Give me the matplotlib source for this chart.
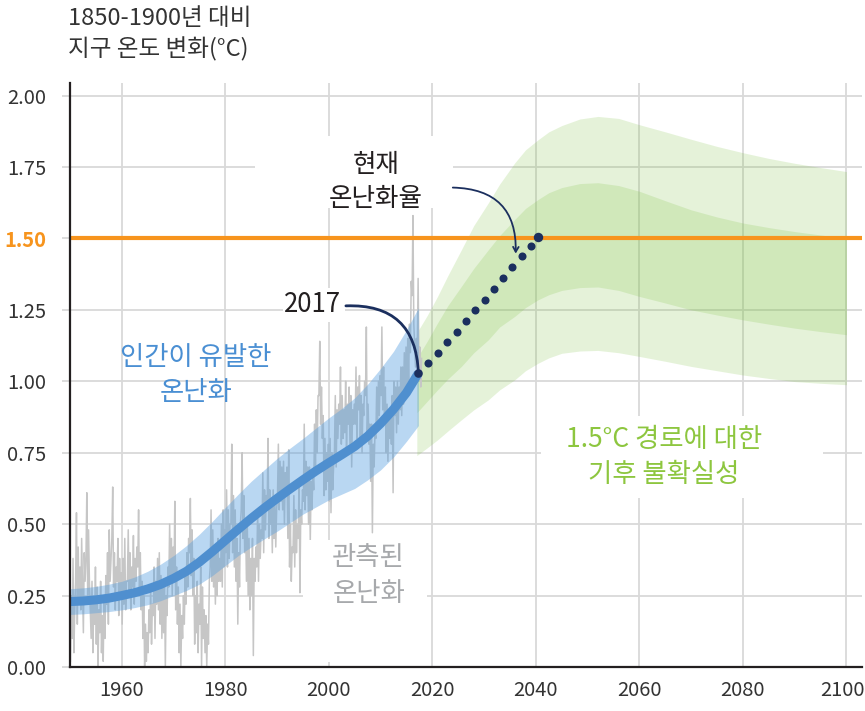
import matplotlib
matplotlib.use("Agg")
import matplotlib.pyplot as plt
from matplotlib.patches import Rectangle

plt.rcParams['font.family'] = ['Noto Sans CJK KR', 'DejaVu Sans']

# -----------------------------
# Data
# -----------------------------
# observed warming, six readings per year, 1950-2017
obs_years = list(range(1950, 2018))
obs_vals = [
    [0.02, 0.25, 0.10, 0.38, 0.05, 0.20],  # 1950
    [0.30, 0.54, 0.15, 0.42, 0.22, 0.35],
    [0.20, 0.45, 0.28, 0.12, 0.40, 0.30],
    [0.38, 0.61, 0.25, 0.48, 0.30, 0.20],
    [0.10, 0.30, 0.05, 0.22, 0.15, 0.35],
    [0.08, 0.28, 0.00, 0.20, 0.12, 0.30],
    [0.05, 0.18, 0.02, 0.25, 0.10, 0.32],
    [0.22, 0.40, 0.15, 0.48, 0.30, 0.38],
    [0.45, 0.63, 0.28, 0.40, 0.20, 0.35],
    [0.30, 0.45, 0.18, 0.38, 0.25, 0.33],
    [0.15, 0.38, 0.22, 0.45, 0.20, 0.30],  # 1960
    [0.30, 0.48, 0.25, 0.40, 0.20, 0.35],
    [0.28, 0.46, 0.22, 0.38, 0.30, 0.42],
    [0.35, 0.55, 0.25, 0.40, 0.20, 0.30],
    [0.10, 0.25, 0.00, 0.15, 0.02, 0.12],
    [0.05, 0.20, 0.12, 0.28, 0.08, 0.22],
    [0.18, 0.35, 0.10, 0.30, 0.22, 0.38],
    [0.20, 0.40, 0.15, 0.32, 0.10, 0.28],
    [0.12, 0.30, 0.00, 0.25, 0.18, 0.35],
    [0.28, 0.50, 0.30, 0.45, 0.25, 0.42],
    [0.30, 0.58, 0.20, 0.35, 0.15, 0.28],  # 1970
    [0.05, 0.22, 0.00, 0.18, 0.10, 0.25],
    [0.15, 0.32, 0.22, 0.40, 0.28, 0.45],
    [0.40, 0.59, 0.32, 0.48, 0.25, 0.38],
    [0.08, 0.25, 0.12, 0.30, 0.05, 0.22],
    [0.15, 0.35, 0.00, 0.28, 0.10, 0.20],
    [0.05, 0.18, 0.00, 0.15, 0.08, 0.30],
    [0.35, 0.55, 0.30, 0.48, 0.28, 0.42],
    [0.22, 0.40, 0.25, 0.45, 0.30, 0.38],
    [0.30, 0.50, 0.28, 0.55, 0.35, 0.48],
    [0.40, 0.62, 0.35, 0.55, 0.38, 0.50],  # 1980
    [0.50, 0.78, 0.40, 0.60, 0.35, 0.55],
    [0.30, 0.45, 0.15, 0.40, 0.28, 0.50],
    [0.55, 0.75, 0.45, 0.60, 0.40, 0.52],
    [0.30, 0.50, 0.25, 0.45, 0.20, 0.38],
    [0.25, 0.45, 0.04, 0.38, 0.30, 0.42],
    [0.35, 0.55, 0.30, 0.50, 0.38, 0.48],
    [0.45, 0.68, 0.40, 0.62, 0.48, 0.60],
    [0.55, 0.80, 0.45, 0.62, 0.50, 0.58],
    [0.40, 0.62, 0.45, 0.58, 0.42, 0.55],
    [0.60, 0.78, 0.55, 0.72, 0.58, 0.70],  # 1990
    [0.55, 0.72, 0.50, 0.68, 0.60, 0.70],
    [0.45, 0.76, 0.35, 0.50, 0.30, 0.42],
    [0.40, 0.60, 0.35, 0.55, 0.40, 0.50],
    [0.45, 0.65, 0.26, 0.55, 0.50, 0.62],
    [0.58, 0.85, 0.55, 0.72, 0.60, 0.70],
    [0.50, 0.70, 0.44, 0.65, 0.55, 0.68],
    [0.62, 0.85, 0.70, 0.90, 0.75, 0.95],
    [0.95, 1.14, 0.85, 0.98, 0.80, 0.88],
    [0.60, 0.80, 0.62, 0.75, 0.65, 0.78],
    [0.58, 0.80, 0.54, 0.75, 0.62, 0.70],  # 2000
    [0.75, 0.95, 0.70, 0.90, 0.80, 0.92],
    [0.85, 1.05, 0.78, 0.95, 0.80, 0.90],
    [0.82, 1.00, 0.75, 0.92, 0.85, 0.98],
    [0.78, 0.95, 0.70, 0.90, 0.85, 0.92],
    [0.85, 1.05, 0.80, 0.98, 0.90, 1.02],
    [0.80, 0.95, 0.75, 0.92, 0.88, 1.00],
    [0.95, 1.19, 0.80, 0.92, 0.78, 0.85],
    [0.65, 0.85, 0.47, 0.78, 0.70, 0.82],
    [0.80, 0.98, 0.85, 1.00, 0.88, 1.02],
    [0.95, 1.19, 0.90, 1.05, 0.85, 0.98],  # 2010
    [0.75, 0.92, 0.72, 0.88, 0.80, 0.90],
    [0.78, 0.95, 0.61, 1.00, 0.88, 0.98],
    [0.82, 1.00, 0.85, 0.98, 0.90, 1.05],
    [0.88, 1.05, 0.92, 1.10, 0.95, 1.12],
    [0.95, 1.15, 1.00, 1.20, 1.10, 1.35],
    [1.30, 1.58, 1.20, 1.12, 1.05, 1.15],
    [1.10, 1.36, 1.05, 1.12, 0.98, 1.08],  # 2017
]

# human-induced warming (best estimate and likely range)
human_years = [1950, 1952.5, 1955, 1957.5, 1960, 1962.5, 1965, 1967.5, 1970,
               1972.5, 1975, 1977.5, 1980, 1982.5, 1985, 1987.5, 1990, 1992.5,
               1995, 1997.5, 2000, 2002.5, 2005, 2007.5, 2010, 2012.5, 2015,
               2017.3]
human_mid = [0.229, 0.231, 0.235, 0.241, 0.25, 0.26, 0.273, 0.289, 0.31,
             0.335, 0.367, 0.404, 0.443, 0.482, 0.52, 0.556, 0.59, 0.623,
             0.655, 0.686, 0.715, 0.743, 0.772, 0.808, 0.852, 0.902, 0.96,
             1.028]
human_hi = [0.274, 0.277, 0.282, 0.29, 0.30, 0.315, 0.335, 0.36, 0.39,
            0.425, 0.465, 0.51, 0.558, 0.605, 0.65, 0.69, 0.73, 0.766,
            0.80, 0.836, 0.872, 0.905, 0.942, 0.99, 1.045, 1.105, 1.18,
            1.257]
human_lo = [0.184, 0.186, 0.19, 0.194, 0.20, 0.208, 0.218, 0.232, 0.25,
            0.268, 0.29, 0.32, 0.355, 0.39, 0.42, 0.448, 0.475, 0.505,
            0.535, 0.56, 0.585, 0.605, 0.625, 0.655, 0.69, 0.735, 0.79,
            0.845]

# 1.5C pathway uncertainty ranges
path_years = [2017, 2019, 2021, 2023, 2025.6, 2028, 2030.8, 2033, 2035.9,
              2038, 2040.4, 2042.5, 2045, 2048.5, 2052, 2056, 2060, 2065,
              2070, 2075, 2080, 2085, 2090, 2095, 2100]
outer_hi = [1.17, 1.23, 1.297, 1.37, 1.46, 1.545, 1.624, 1.69, 1.764, 1.81,
            1.845, 1.873, 1.895, 1.918, 1.927, 1.92, 1.898, 1.873, 1.847,
            1.822, 1.80, 1.78, 1.763, 1.748, 1.734]
inner_hi = [1.08, 1.14, 1.204, 1.265, 1.332, 1.395, 1.46, 1.51, 1.566, 1.605,
            1.636, 1.66, 1.678, 1.692, 1.695, 1.685, 1.665, 1.632, 1.60,
            1.575, 1.554, 1.538, 1.524, 1.512, 1.501]
inner_lo = [0.89, 0.93, 0.97, 1.008, 1.052, 1.10, 1.145, 1.19, 1.227, 1.258,
            1.285, 1.303, 1.318, 1.328, 1.33, 1.318, 1.297, 1.274, 1.25,
            1.232, 1.215, 1.2, 1.186, 1.174, 1.163]
outer_lo = [0.74, 0.767, 0.795, 0.826, 0.865, 0.90, 0.935, 0.97, 1.005, 1.037,
            1.063, 1.082, 1.098, 1.106, 1.108, 1.1, 1.087, 1.07, 1.052,
            1.037, 1.022, 1.01, 0.999, 0.993, 0.988]

# current warming rate (dotted)
rate_years = [2017.3, 2019.2, 2021.0, 2022.9, 2024.7, 2026.5, 2028.3, 2030.1,
              2031.9, 2033.7, 2035.4, 2037.3, 2039.0, 2040.5]
rate_vals = [1.028, 1.063, 1.098, 1.137, 1.174, 1.212, 1.249, 1.285,
             1.323, 1.361, 1.399, 1.437, 1.475, 1.504]

yticks = [0.0, 0.25, 0.5, 0.75, 1.0, 1.25, 1.5, 1.75, 2.0]
xticks = [1960, 1980, 2000, 2020, 2040, 2060, 2080, 2100]

# -----------------------------
# Colours
# -----------------------------
GRID = "#d9d9d9"
BLUE = "#4f8fcf"
GREEN = "#7dc242"
ORANGE = "#f7941d"
NAVY = "#1b2f5e"
GRAY_OBS = "#c6c6c6"
TICK_COL = "#333333"

# -----------------------------
# Plot
# -----------------------------
fig = plt.figure(figsize=(8.65, 7.11), dpi=100)
ax = fig.add_axes([70 / 865, 44 / 711, 792 / 865, 584 / 711])

ax.set_xlim(1950, 2103)
ax.set_ylim(0, 2.044)

for y in yticks:
    ax.axhline(y, color=GRID, lw=1.3, zorder=0.5)
for x in xticks:
    ax.axvline(x, color=GRID, lw=1.3, zorder=0.5)

# green pathway ranges
ax.fill_between(path_years, outer_lo, outer_hi, color=GREEN, alpha=0.2, lw=0, zorder=1)
ax.fill_between(path_years, inner_lo, inner_hi, color=GREEN, alpha=0.2, lw=0, zorder=1)

# observed
obs_x = [yr + (k + 0.5) / 6 for yr in obs_years for k in range(6)]
obs_y = [v for row in obs_vals for v in row]
ax.plot(obs_x, obs_y, color=GRAY_OBS, lw=1.1, zorder=1.5)

# human-induced
ax.fill_between(human_years, human_lo, human_hi, color="#5aa0e0", alpha=0.42, lw=0, zorder=2)
ax.plot(human_years, human_mid, color=BLUE, lw=6.5, solid_capstyle="butt", zorder=3)

# 1.5 line
ax.axhline(1.5, color=ORANGE, lw=3, zorder=4)

# current rate dots
ax.plot(rate_years[1:-1], rate_vals[1:-1], "o", color=NAVY, ms=5.8, mec="none", zorder=6)
ax.plot(rate_years[0], rate_vals[0], "o", color=NAVY, ms=6.2, mec="none", zorder=6)
ax.plot(rate_years[-1], rate_vals[-1], "o", color=NAVY, ms=6.8, mec="none", zorder=6)

# white masks behind labels (cut the grid like the original)
for (x0, x1, y0, y1) in [(1985.7, 2023.9, 1.608, 1.86),
                         (1991.1, 2003.1, 1.208, 1.327),
                         (1995.0, 2018.9, 0.018, 0.445),
                         (2040.9, 2095.4, 0.591, 0.877)]:
    ax.add_patch(Rectangle((x0, y0), x1 - x0, y1 - y0, facecolor="white",
                           edgecolor="none", zorder=5))

# annotations
ax.text(1996.9, 1.27, "2017", ha="center", va="center", fontsize=18.6,
        fontweight="medium", color="#231f20", zorder=7)
ax.annotate("", xy=(2017.3, 1.028), xytext=(2003.3, 1.264),
            arrowprops=dict(arrowstyle="-", color=NAVY, lw=2,
                            connectionstyle="arc3,rad=-0.5",
                            shrinkA=0, shrinkB=0), zorder=7)

ax.text(2009.1, 1.698, "현재\n온난화율", ha="center", va="center", fontsize=18.4,
        color="#231f20", linespacing=1.4, zorder=7)
ax.annotate("", xy=(2036.1, 1.447), xytext=(2023.95, 1.678),
            arrowprops=dict(arrowstyle="->,head_length=0.35,head_width=0.2",
                            color=NAVY, lw=1.3,
                            connectionstyle="arc3,rad=-0.5",
                            shrinkA=0, shrinkB=0), zorder=7)

ax.text(1974.3, 1.021, "인간이 유발한\n온난화", ha="center", va="center",
        fontsize=19, color="#4a8fd3", linespacing=1.4, zorder=7)
ax.text(2007.7, 0.32, "관측된\n온난화", ha="center", va="center",
        fontsize=19, color="#a7a9ac", linespacing=1.4, zorder=7)
ax.text(2064.7, 0.734, "1.5°C 경로에 대한\n기후 불확실성", ha="center", va="center",
        fontsize=19, color="#8dc63f", linespacing=1.4, zorder=7)

# axes styling
for side in ["top", "right"]:
    ax.spines[side].set_visible(False)
for side in ["left", "bottom"]:
    ax.spines[side].set_color("#231f20")
    ax.spines[side].set_linewidth(1.6)
    ax.spines[side].set_zorder(8)

ax.set_yticks(yticks)
ax.set_yticklabels([f"{v:.2f}" for v in yticks])
ax.tick_params(axis="y", length=6, width=1.3, color=GRID, pad=11,
               labelsize=14.5, labelcolor=TICK_COL)
for lbl in ax.get_yticklabels():
    if lbl.get_text() == "1.50":
        lbl.set_color(ORANGE)
        lbl.set_fontweight("bold")

# x tick labels drawn as text so the last one stays inside the figure
ax.set_xticks(xticks)
ax.set_xticklabels([])
ax.tick_params(axis="x", length=0)
for x in xticks:
    xpos = x - 0.8 if x == 2100 else x
    ax.text(xpos, -0.022, str(x), transform=ax.get_xaxis_transform(),
            ha="center", va="top", fontsize=14.5, color=TICK_COL, clip_on=False)

fig.text(68 / 865, 1 - 7 / 711, "1850-1900년 대비\n지구 온도 변화(°C)",
         ha="left", va="top", fontsize=17, color=TICK_COL, linespacing=1.35)

fig.savefig("out.png", dpi=100)
